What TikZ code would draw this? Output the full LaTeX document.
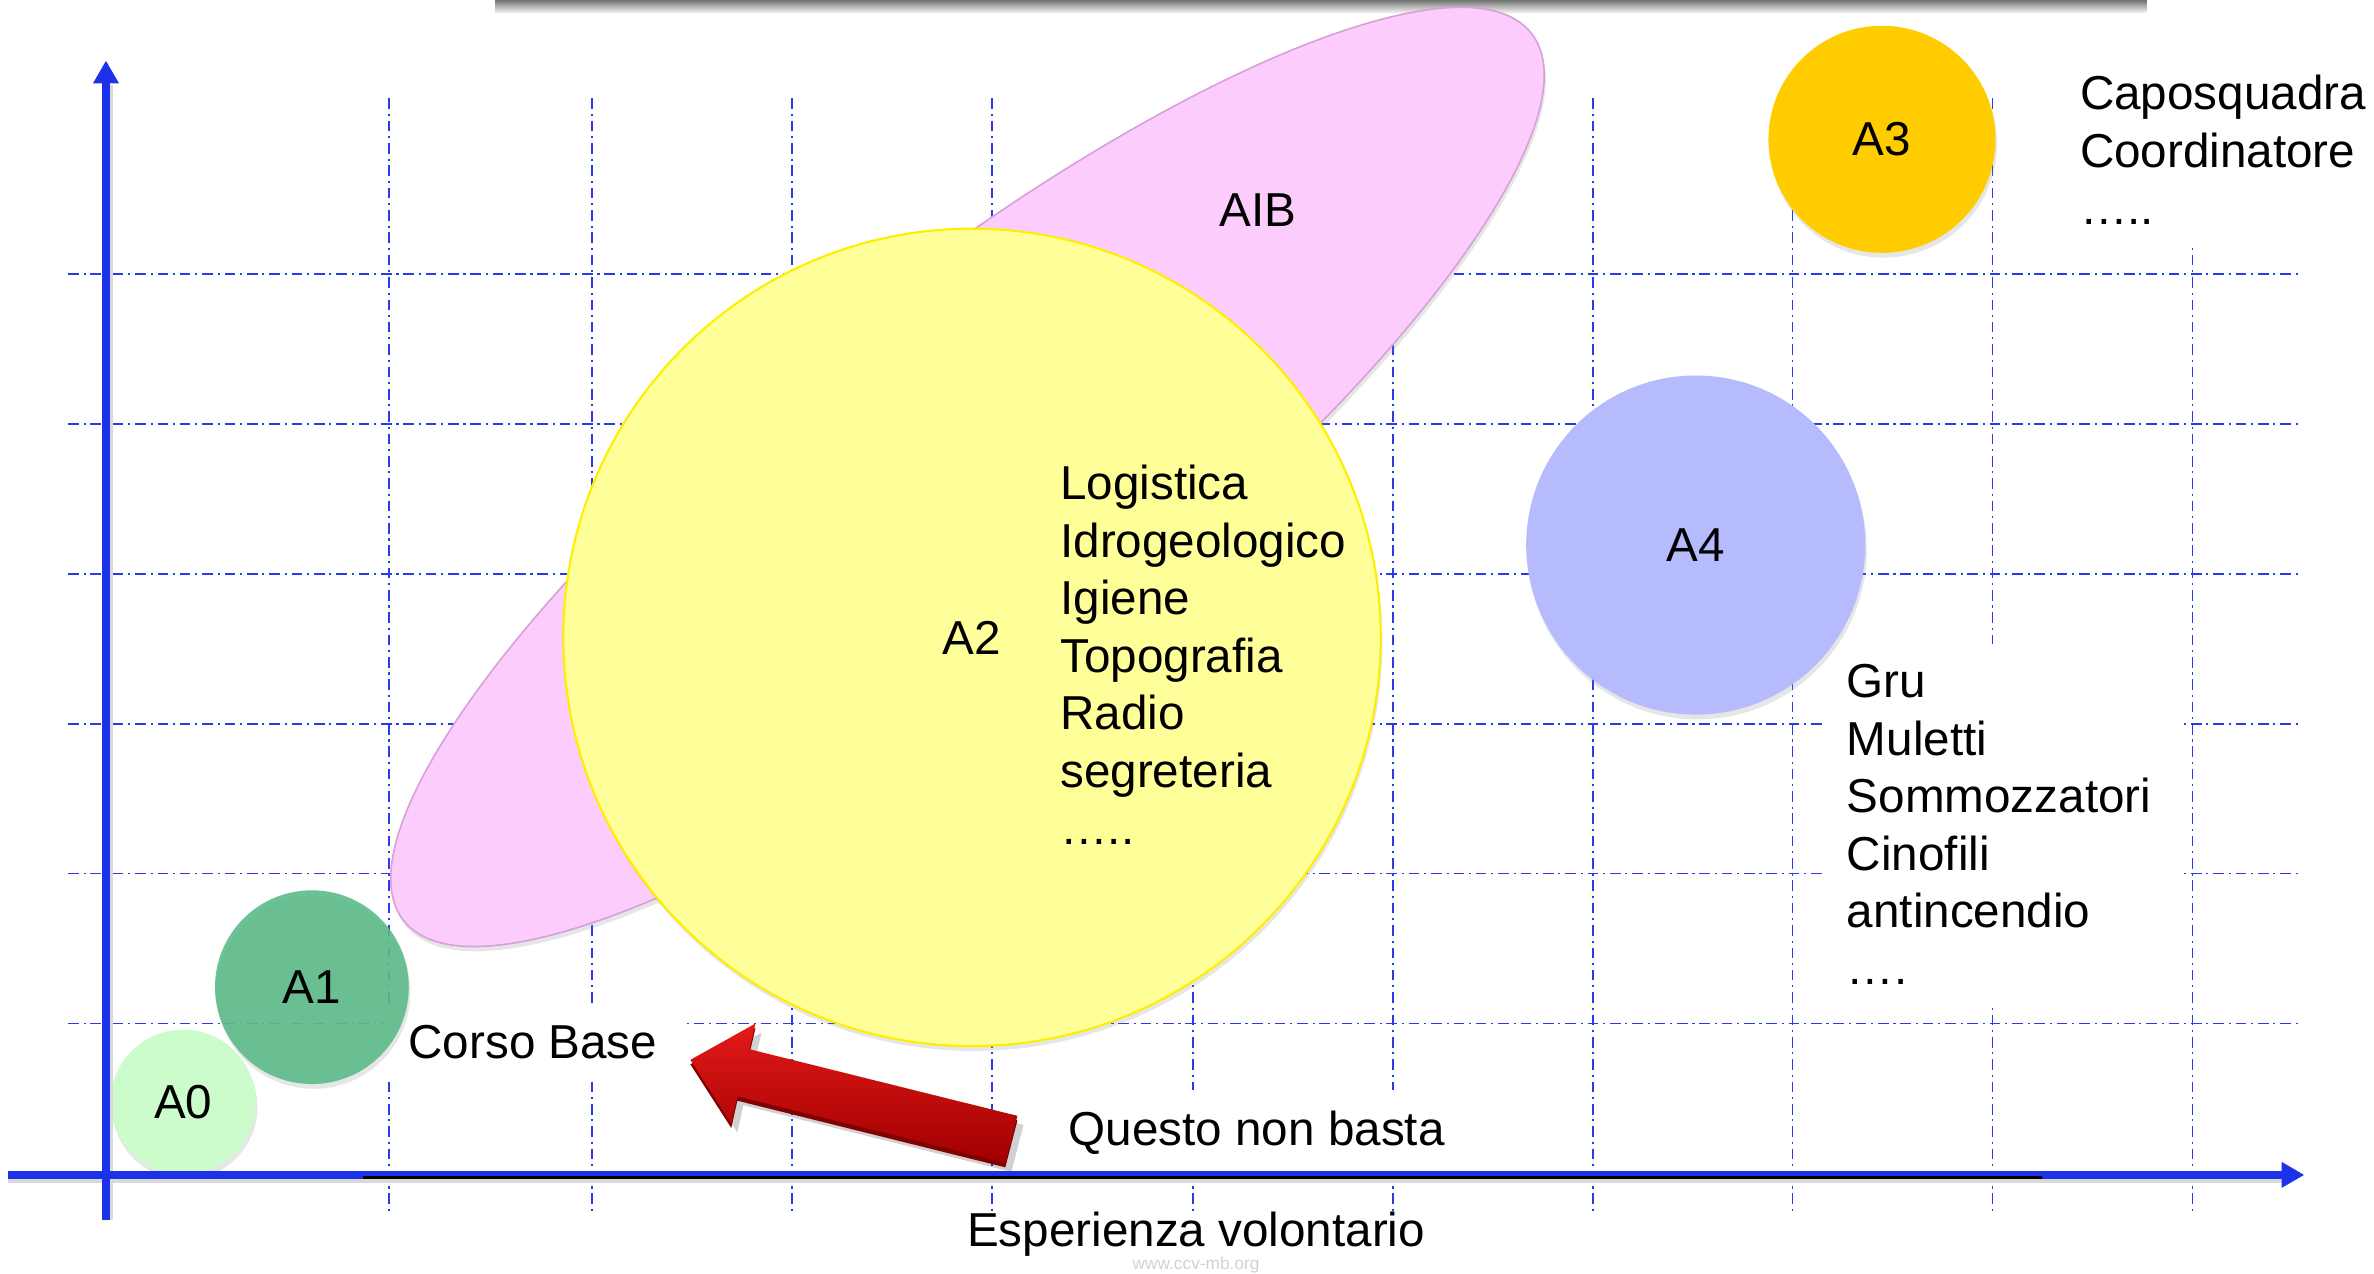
\documentclass[tikz,border=0pt]{standalone}
\usepackage{fontspec}
\setmainfont{Liberation Sans}
\usepackage{tikz}
\usetikzlibrary{arrows.meta,calc,positioning,shapes.geometric,shadows}

\definecolor{axisblue}{RGB}{28,50,232}
\definecolor{gridblue}{RGB}{40,60,235}
\definecolor{aibpink}{RGB}{252,204,252}
\definecolor{aibedge}{RGB}{215,160,215}
\definecolor{azero}{RGB}{204,252,204}
\definecolor{aone}{RGB}{92,186,138}
\definecolor{atwo}{RGB}{255,255,153}
\definecolor{atwoedge}{RGB}{255,238,0}
\definecolor{athree}{RGB}{255,204,0}
\definecolor{afour}{RGB}{181,187,252}
\definecolor{arrowred}{RGB}{205,0,0}
\definecolor{arrowlight}{RGB}{228,25,25}
\definecolor{arrowdark}{RGB}{160,0,0}
\definecolor{arrowside}{RGB}{130,0,0}

\begin{document}
\begin{tikzpicture}[x=0.02cm, y=-0.02cm,
  every node/.style={font=\fontsize{17.9}{21.6}\selectfont},
  bubble/.style={circle, inner sep=0pt, drop shadow={shadow xshift=0.6pt, shadow yshift=-1.8pt, opacity=0.2}},
  gridline/.style={draw=gridblue, line width=0.6pt, dash pattern=on 4pt off 1.8pt on 0.8pt off 1.8pt},
  axisline/.style={draw=axisblue, line width=2.8pt, -{Triangle[length=0.3cm, width=0.32cm]}},
  textbox/.style={fill=white, align=left, inner xsep=0.33cm, inner ysep=0.27cm}]

\useasboundingbox (0,0) rectangle (1568,841);

%Top bar
\shade[top color=black!55, bottom color=white] (327,0) rectangle (1418,9);

%Grid
\foreach \gx in {257,391,523,655,788,920,1052,1184,1316,1448}
  \draw[gridline] (\gx,65) -- (\gx,802);
\foreach \gy in {181,280,379,478,577,676}
  \draw[gridline] (45,\gy) -- (1520,\gy);

%Text boxes
\node[textbox] (corso) at (352,688) {Corso Base};
\node[textbox] (questo) at (830,748) {Questo non basta};
\node[textbox, anchor=north west] (capo) at (1357,36) {Caposquadra\\Coordinatore\\…..};
\node[textbox, anchor=north west, text width=4.12cm] (gru) at (1203,425)
  {Gru\\Muletti\\Sommozzatori\\Cinofili\\antincendio\\….};

%Nodes
\node[ellipse, minimum width=18.96cm, minimum height=5.16cm, rotate=38.2, fill=aibpink, draw=aibedge, line width=0.6pt,
      drop shadow={shadow xshift=0.6pt, shadow yshift=-1.8pt, opacity=0.2}] (aib) at (639,315) {};
\node (aiblabel) at (831,139) {AIB};
\node[bubble, minimum size=10.8cm, fill=atwo, draw=atwoedge, line width=0.8pt] (a2) at (642,421) {A2};
\node[anchor=north west, align=left, inner sep=0pt] (a2list) at (700,307)
  {Logistica\\Idrogeologico\\Igiene\\Topografia\\Radio\\segreteria\\…..};
\node[bubble, minimum size=1.92cm, fill=azero] (a0) at (121,728) {A0};
\node[bubble, minimum size=2.56cm, fill=aone, fill opacity=0.9, text opacity=1] (a1) at (206,652) {A1};
\node[bubble, minimum size=3.0cm, fill=athree] (a3) at (1243,92) {A3};
\node[bubble, minimum size=4.48cm, fill=afour] (a4) at (1120,360) {A4};

%Red arrow
\fill[black, opacity=0.18] (460,706) -- (503,682) -- (499,699) -- (676,743) -- (668,774) -- (491,730) -- (487,748) -- cycle;
\fill[arrowside] (456,703) -- (499,679) -- (495,696) -- (672,740) -- (664,771) -- (487,727) -- (483,745) -- cycle;
\shade[top color=arrowlight, middle color=arrowred, bottom color=arrowdark]
  (456,700) -- (499,676) -- (495,693) -- (672,737) -- (664,768) -- (487,724) -- (483,742) -- cycle;

%Axes
\coordinate (ybot) at (70,806);
\coordinate (ytop) at (70,40);
\coordinate (xleft) at (5,776);
\coordinate (xright) at (1522,776);
\coordinate (ulstart) at (240,777.5);
\coordinate (ulend) at (1349,777.5);
\draw[black!15, line width=2.8pt] ($(ybot)+(2,0)$) -- ($(ytop)+(2,16)$);
\draw[black!15, line width=2.8pt] ($(xleft)+(0,3)$) -- ($(xright)+(-14,3)$);
\draw[axisline] (ybot) -- (ytop);
\draw[axisline] (xleft) -- (xright);
\draw[black, line width=1.1pt] (ulstart) -- (ulend);

%Bottom texts
\node[text=black!18, font=\fontsize{6.5}{8}\selectfont, anchor=base, inner sep=0pt] (mark) at (790,838.5) {www.ccv-mb.org};
\node (esper) at (790,815) {Esperienza volontario};

\end{tikzpicture}
\end{document}
